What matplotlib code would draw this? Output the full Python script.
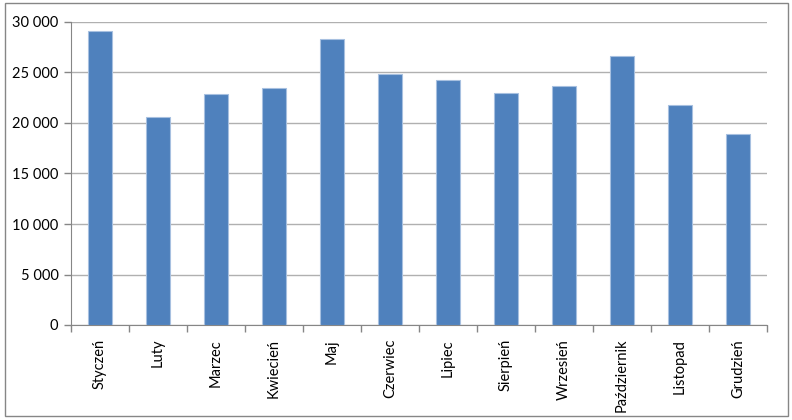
import matplotlib
matplotlib.use("Agg")
import matplotlib.pyplot as plt
from matplotlib.patches import Rectangle
from matplotlib.ticker import FuncFormatter

months = ['Styczeń', 'Luty', 'Marzec', 'Kwiecień', 'Maj', 'Czerwiec',
          'Lipiec', 'Sierpień', 'Wrzesień', 'Październik', 'Listopad', 'Grudzień']
values = [29100, 20600, 22900, 23500, 28300, 24900,
          24300, 23000, 23700, 26600, 21800, 18900]
y_ticks = [0, 5000, 10000, 15000, 20000, 25000, 30000]

plt.rcParams['font.family'] = ['Lato', 'DejaVu Sans']

fig = plt.figure(figsize=(7.92, 4.2), dpi=100)
ax = fig.add_axes([71/792, 1 - 325/420, (767 - 71)/792, (325 - 22)/420])

x = range(len(months))
ax.bar(x, values, width=0.4, color='#4f81bd', edgecolor='#a7c0e0', linewidth=0.8, zorder=3)

ax.set_xlim(-0.5, len(months) - 0.5)
ax.set_ylim(0, 30000)
ax.set_yticks(y_ticks)
ax.yaxis.set_major_formatter(FuncFormatter(lambda v, p: f"{int(v):,}".replace(',', ' ')))
ax.grid(axis='y', color='#b0b0b0', linewidth=1.0, zorder=0)

ax.set_xticks(list(x))
ax.set_xticklabels(months, rotation=90, va='top', ha='center')
# category boundary ticks
ax.set_xticks([i - 0.5 for i in range(len(months) + 1)], minor=True)
ax.tick_params(axis='x', which='major', length=0, pad=10, labelsize=10.5)
ax.tick_params(axis='x', which='minor', length=5, color='#868686', width=1)
ax.tick_params(axis='y', length=5, color='#868686', width=1, labelsize=10.5, pad=4)

for s in ['top', 'right']:
    ax.spines[s].set_visible(False)
ax.spines['left'].set_color('#868686')
ax.spines['bottom'].set_color('#868686')

fig.patches.append(Rectangle((4.5/792, 1 - 415.5/420), (787.5 - 4.5)/792, (415.5 - 2.5)/420,
                             transform=fig.transFigure, fill=False, edgecolor='#868686', linewidth=1))

fig.savefig('out.png', dpi=100)
